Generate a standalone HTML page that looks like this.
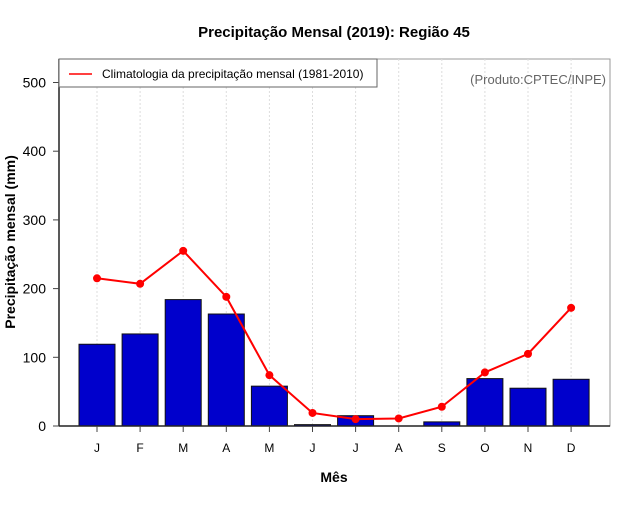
<!DOCTYPE html>
<html><head><meta charset="utf-8"><style>
body{margin:0;background:#fff}
svg text{font-family:"Liberation Sans",sans-serif}
</style></head><body>
<svg id="chart" width="640" height="500" xmlns="http://www.w3.org/2000/svg">
<rect width="640" height="500" fill="#fff"/>
<text x="334" y="37" text-anchor="middle" font-size="15" font-weight="bold">Precipitação Mensal (2019): Região 45</text>
<rect x="59" y="59" width="551" height="367" fill="none" stroke="#999" stroke-width="1"/>
<g id="grid"></g>
<g id="bars"></g>
<g id="line"></g>
<line x1="59" y1="59" x2="59" y2="426" stroke="#222" stroke-width="1.5"/>
<line x1="59" y1="426" x2="610" y2="426" stroke="#222" stroke-width="1.5"/>
<g id="yticks"></g>
<g id="xticks"></g>
<text x="334" y="482" text-anchor="middle" font-size="14" font-weight="bold">Mês</text>
<text transform="translate(15,242) rotate(-90)" text-anchor="middle" font-size="14" font-weight="bold">Precipitação mensal (mm)</text>
<g>
<rect x="59" y="59" width="318" height="28" fill="#fff" stroke="#666" stroke-width="1"/>
<line x1="69" y1="74" x2="92" y2="74" stroke="red" stroke-width="1.5"/>
<text x="102" y="78" font-size="12" fill="#000">Climatologia da precipitação mensal (1981-2010)</text>
</g>
<text x="606" y="84" text-anchor="end" font-size="13" fill="#666">(Produto:CPTEC/INPE)</text>
</svg>
<script>
const months=["J","F","M","A","M","J","J","A","S","O","N","D"];
const rain2019=[119,134,184,163,58,2,15,0,6,69,55,68];
const climatology=[215,207,255,188,74,19,10,11,28,78,105,172];
const yTicks=[0,100,200,300,400,500];
const NS="http://www.w3.org/2000/svg";
const x0=97,dx=43.1,y0=426,ky=0.687;
const xs=i=>x0+i*dx, ys=v=>y0-v*ky;
function mk(t,a,p){const e=document.createElementNS(NS,t);for(const k in a)e.setAttribute(k,a[k]);p.appendChild(e);return e;}
const G=document.getElementById('grid'),B=document.getElementById('bars'),L=document.getElementById('line'),YT=document.getElementById('yticks'),XT=document.getElementById('xticks');
months.forEach((m,i)=>{
 const g=mk('line',{x1:xs(i),x2:xs(i),y1:59,y2:426,stroke:'#ddd','stroke-dasharray':'2,2'},G);
 
 
 const h=rain2019[i]*ky;
 const b=mk('rect',{x:xs(i)-18,y:y0-h,width:36,height:h,fill:'#0000cc',stroke:'#111','stroke-width':1},B);
 
 
 const t=mk('line',{x1:xs(i),x2:xs(i),y1:426,y2:432,stroke:'#444'},XT);
 
 
 const l=mk('text',{x:xs(i),y:452,'text-anchor':'middle','font-size':12},XT);
 l.textContent=m;
 
 
});
const pl=mk('polyline',{points:climatology.map((v,i)=>xs(i)+','+ys(v)).join(' '),fill:'none',stroke:'red','stroke-width':2},L);


climatology.forEach((v,i)=>{
 const c=mk('circle',{cx:xs(i),cy:ys(v),r:4,fill:'red'},L);
 
 
});
yTicks.forEach(v=>{
 const t=mk('line',{x1:53,x2:59,y1:ys(v),y2:ys(v),stroke:'#444'},YT);
 
 
 const l=mk('text',{x:46,y:ys(v)+5,'text-anchor':'end','font-size':14},YT);
 l.textContent=v;
 
 
});
</script>
</body></html>
